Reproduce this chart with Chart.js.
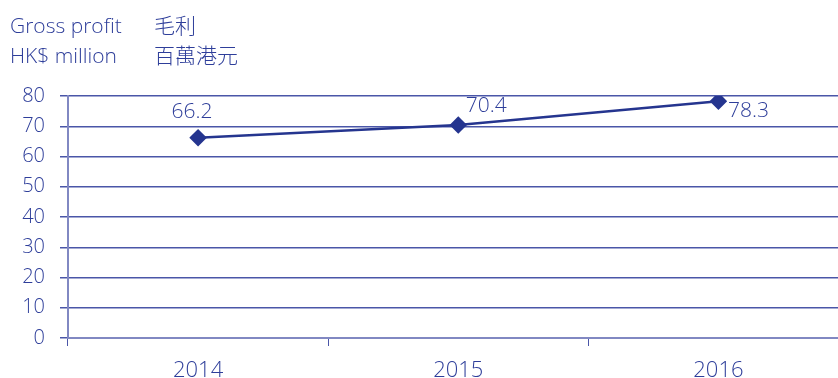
<!DOCTYPE html>
<html lang="en">
<head>
    <meta charset="UTF-8">
    <title>Gross profit</title>
    <style>
        html, body { margin: 0; padding: 0; background: #fff; overflow: hidden; }
        .wrap { position: relative; width: 858px; height: 378px; }
        .title {
            position: absolute; left: 10px; top: 10px;
            font-family: "Open Sans", "Noto Sans CJK TC", sans-serif;
            font-weight: 300;
            font-size: 21px; line-height: 30px; color: #2e3e9a;
        }
        .title span { display: inline-block; width: 144px; }
        canvas { position: absolute; left: 0; top: 0; }
    </style>
</head>
<body>
    <div class="wrap">
        <canvas id="myChart" width="858" height="378"></canvas>
        <div class="title">
            <div><span>Gross profit</span>毛利</div>
            <div><span>HK$ million</span>百萬港元</div>
        </div>
    </div>

    <script src="https://cdn.jsdelivr.net/npm/chart.js@4/dist/chart.umd.min.js"></script>
    <script>
        var years = ['2014', '2015', '2016']
        var grossProfit = [66.2, 70.4, 78.3]
        var yTicks = [0, 10, 20, 30, 40, 50, 60, 70, 80]

        var textColor = '#2e3e9a'
        var lineColor = '#25358f'
        var font = '"Open Sans", sans-serif'

        // value labels next to each point
        var valueLabels = {
            id: 'valueLabels',
            afterDatasetsDraw(chart, args, opts) {
                var ctx = chart.ctx
                var meta = chart.getDatasetMeta(0)
                ctx.save()
                ctx.font = '300 21px ' + font
                ctx.fillStyle = textColor
                ctx.textAlign = 'center'
                ctx.textBaseline = 'middle'
                meta.data.forEach((pt, i) => {
                    var off = opts.offsets[i]
                    ctx.fillText(grossProfit[i].toFixed(1), pt.x + off[0], pt.y + off[1])
                })
                ctx.restore()
            }
        }

        var ctx = document.getElementById('myChart')
        var myChart = new Chart(ctx, {
            type: 'line',
            data: {
                labels: years,
                datasets: [{
                    data: grossProfit,
                    borderColor: lineColor,
                    backgroundColor: lineColor,
                    borderWidth: 2.5,
                    pointStyle: 'rectRot',
                    pointRadius: 7,
                    pointHoverRadius: 7,
                    tension: 0
                }]
            },
            plugins: [valueLabels],
            options: {
                responsive: false,
                animation: false,
                events: [],
                layout: { padding: { top: 96, left: 0, right: 0, bottom: 0 } },
                plugins: {
                    legend: { display: false },
                    tooltip: { enabled: false },
                    valueLabels: { offsets: [[-6, -26], [28, -19], [30, 10]] }
                },
                scales: {
                    x: {
                        offset: true,
                        grid: {
                            display: true,
                            drawOnChartArea: false,
                            drawTicks: true,
                            tickLength: 8,
                            color: '#4a56a8',
                            offset: true
                        },
                        border: { color: '#8188c2', width: 2 },
                        ticks: {
                            color: textColor,
                            font: { family: font, size: 22, weight: 300 },
                            padding: 12
                        },
                        afterFit(scale) { scale.height = 40 }
                    },
                    y: {
                        min: 0,
                        max: 80,
                        afterBuildTicks(scale) {
                            scale.ticks = yTicks.map(v => ({ value: v }))
                        },
                        grid: {
                            color: '#4a56a8',
                            lineWidth: 1.5,
                            tickLength: 8,
                            drawTicks: true
                        },
                        border: { color: '#8188c2', width: 2 },
                        ticks: {
                            color: textColor,
                            font: { family: font, size: 20, weight: 300 },
                            padding: 15
                        },
                        afterFit(scale) { scale.width = 68 }
                    }
                }
            }
        })
    </script>
</body>
</html>
